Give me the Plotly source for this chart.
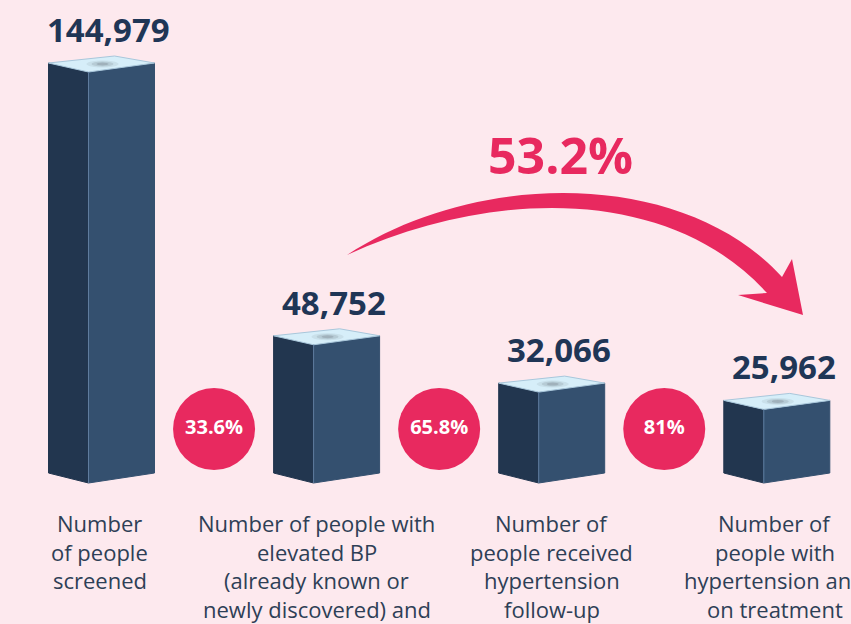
import plotly.graph_objects as go

# ---------------- data ----------------
categories = [
    ["Number", "of people", "screened"],
    ["Number of people with", "elevated BP", "(already known or", "newly discovered) and"],
    ["Number of", "people received", "hypertension", "follow-up"],
    ["Number of", "people with", "hypertension and", "on treatment"],
]
values = [144979, 48752, 32066, 25962]
value_labels = ["144,979", "48,752", "32,066", "25,962"]
step_pct = ["33.6%", "65.8%", "81%"]
overall_pct = "53.2%"

# ---------------- layout constants ----------------
W, H = 851, 624
PX = 225.1           # pixels per category slot
X0 = 88.5            # pixel x of first bar's front edge
BASE = 483           # pixel y of baseline
U = values[0] / 411  # value units per pixel
WL = 40 / PX         # left face width (slot units)
WF = 66 / PX         # front face width (slot units)
label_dx = [-2, -10, 0, -2]
label_rows = [523, 552, 580, 609]

BG = "#fde9ee"
C_LEFT = "#22364f"
C_FRONT = "#34506f"
C_TOP = "#d6eef9"
C_NAVY = "#1f3656"
C_TEXT = "#2e3f56"
C_RED = "#e8295f"
FONT = "Open Sans"

fig = go.Figure()
shapes = []
annotations = []

for i, v in enumerate(values):
    fx = i
    L = i - WL
    R = i + WF
    B = L + WF
    t_side = v + 9 * U
    t_back = v + 16 * U
    b_side = 10 * U
    faces = [
        ([L, fx, fx, L, L], [b_side, 0, v, t_side, b_side], C_LEFT, C_LEFT),
        ([fx, R, R, fx, fx], [0, b_side, t_side, v, 0], C_FRONT, C_FRONT),
        ([L, B, R, fx, L], [t_side, t_back, t_side, v, t_side], C_TOP, "#a9c7db"),
    ]
    for xs, ys, fc, lc in faces:
        fig.add_trace(go.Scatter(x=xs, y=ys, fill="toself", fillcolor=fc,
                                 mode="lines", line=dict(color=lc, width=1),
                                 hoverinfo="skip"))
    # edge highlight
    fig.add_trace(go.Scatter(x=[fx, fx], y=[0, v], mode="lines",
                             line=dict(color="#5f7c9e", width=1), hoverinfo="skip"))
    # top shading spot
    cx = (L + R) / 2 + 1 / PX
    cy = v + 8 * U
    for hw, hh, op in [(16, 3.5, 0.12), (11, 2.5, 0.2), (6, 1.5, 0.3)]:
        shapes.append(dict(type="circle", xref="x", yref="y",
                           x0=cx - hw / PX, x1=cx + hw / PX,
                           y0=cy - hh * U, y1=cy + hh * U,
                           fillcolor=f"rgba(110,120,130,{op})", line=dict(width=0)))
    # value label
    annotations.append(dict(x=i + 20 / PX, y=v, xref="x", yref="y",
                            text=f"<b>{value_labels[i]}</b>", showarrow=False,
                            yanchor="bottom", yshift=18,
                            font=dict(family=FONT, size=33, color=C_NAVY)))
    # category label
    for r, line in enumerate(categories[i]):
        annotations.append(dict(x=(L + R) / 2 + label_dx[i] / PX, y=label_rows[r],
                                xref="x", yref="y2", text=line, showarrow=False,
                                yanchor="middle", xanchor="center",
                                font=dict(family=FONT, size=22, color=C_TEXT)))

# step percentage circles
cxs = [(i + WF + (i + 1) - WL) / 2 for i in range(len(step_pct))]
fig.add_trace(go.Scatter(x=cxs, y=[429] * len(step_pct), yaxis="y2",
                         mode="markers+text", text=[f"<b>{p}</b>" for p in step_pct],
                         textposition="middle center",
                         textfont=dict(family=FONT, size=20, color="white"),
                         marker=dict(size=82, color=C_RED, line=dict(width=0)),
                         hoverinfo="skip", cliponaxis=False))

# helper invisible trace for pixel axes
fig.add_trace(go.Scatter(x=[0, W], y=[0, H], xaxis="x2", yaxis="y2", mode="markers",
                         marker=dict(opacity=0), hoverinfo="skip"))

# curved arrow
shapes.append(dict(type="path", xref="x2", yref="y2",
                   path="M 347 255 C 478 169, 684 169, 782 277 L 792 259 L 803 315 "
                        "L 738 295 L 767 293 C 671 187, 496 187, 347 255 Z",
                   fillcolor=C_RED, line=dict(width=0)))
annotations.append(dict(x=560, y=155, xref="x2", yref="y2",
                        text=f"<b>{overall_pct}</b>", showarrow=False,
                        font=dict(family=FONT, size=50, color=C_RED)))

fig.update_layout(
    width=W, height=H, margin=dict(l=0, r=0, t=0, b=0),
    paper_bgcolor=BG, plot_bgcolor=BG, showlegend=False,
    xaxis=dict(range=[(0 - X0) / PX, (W - X0) / PX], visible=False, fixedrange=True),
    yaxis=dict(range=[-(H - BASE) * U, BASE * U], visible=False, fixedrange=True),
    xaxis2=dict(range=[0, W], overlaying="x", visible=False),
    yaxis2=dict(range=[H, 0], overlaying="y", visible=False),
    shapes=shapes, annotations=annotations,
)

fig.write_html("out.html", config={"displayModeBar": False, "staticPlot": True})

# remove default page margin so the figure fills the window
with open("out.html", "r", encoding="utf-8") as f:
    html = f.read()
html = html.replace("<head>", "<head><style>html,body{margin:0;padding:0;overflow:hidden;background:%s;}</style>" % BG, 1)
with open("out.html", "w", encoding="utf-8") as f:
    f.write(html)
